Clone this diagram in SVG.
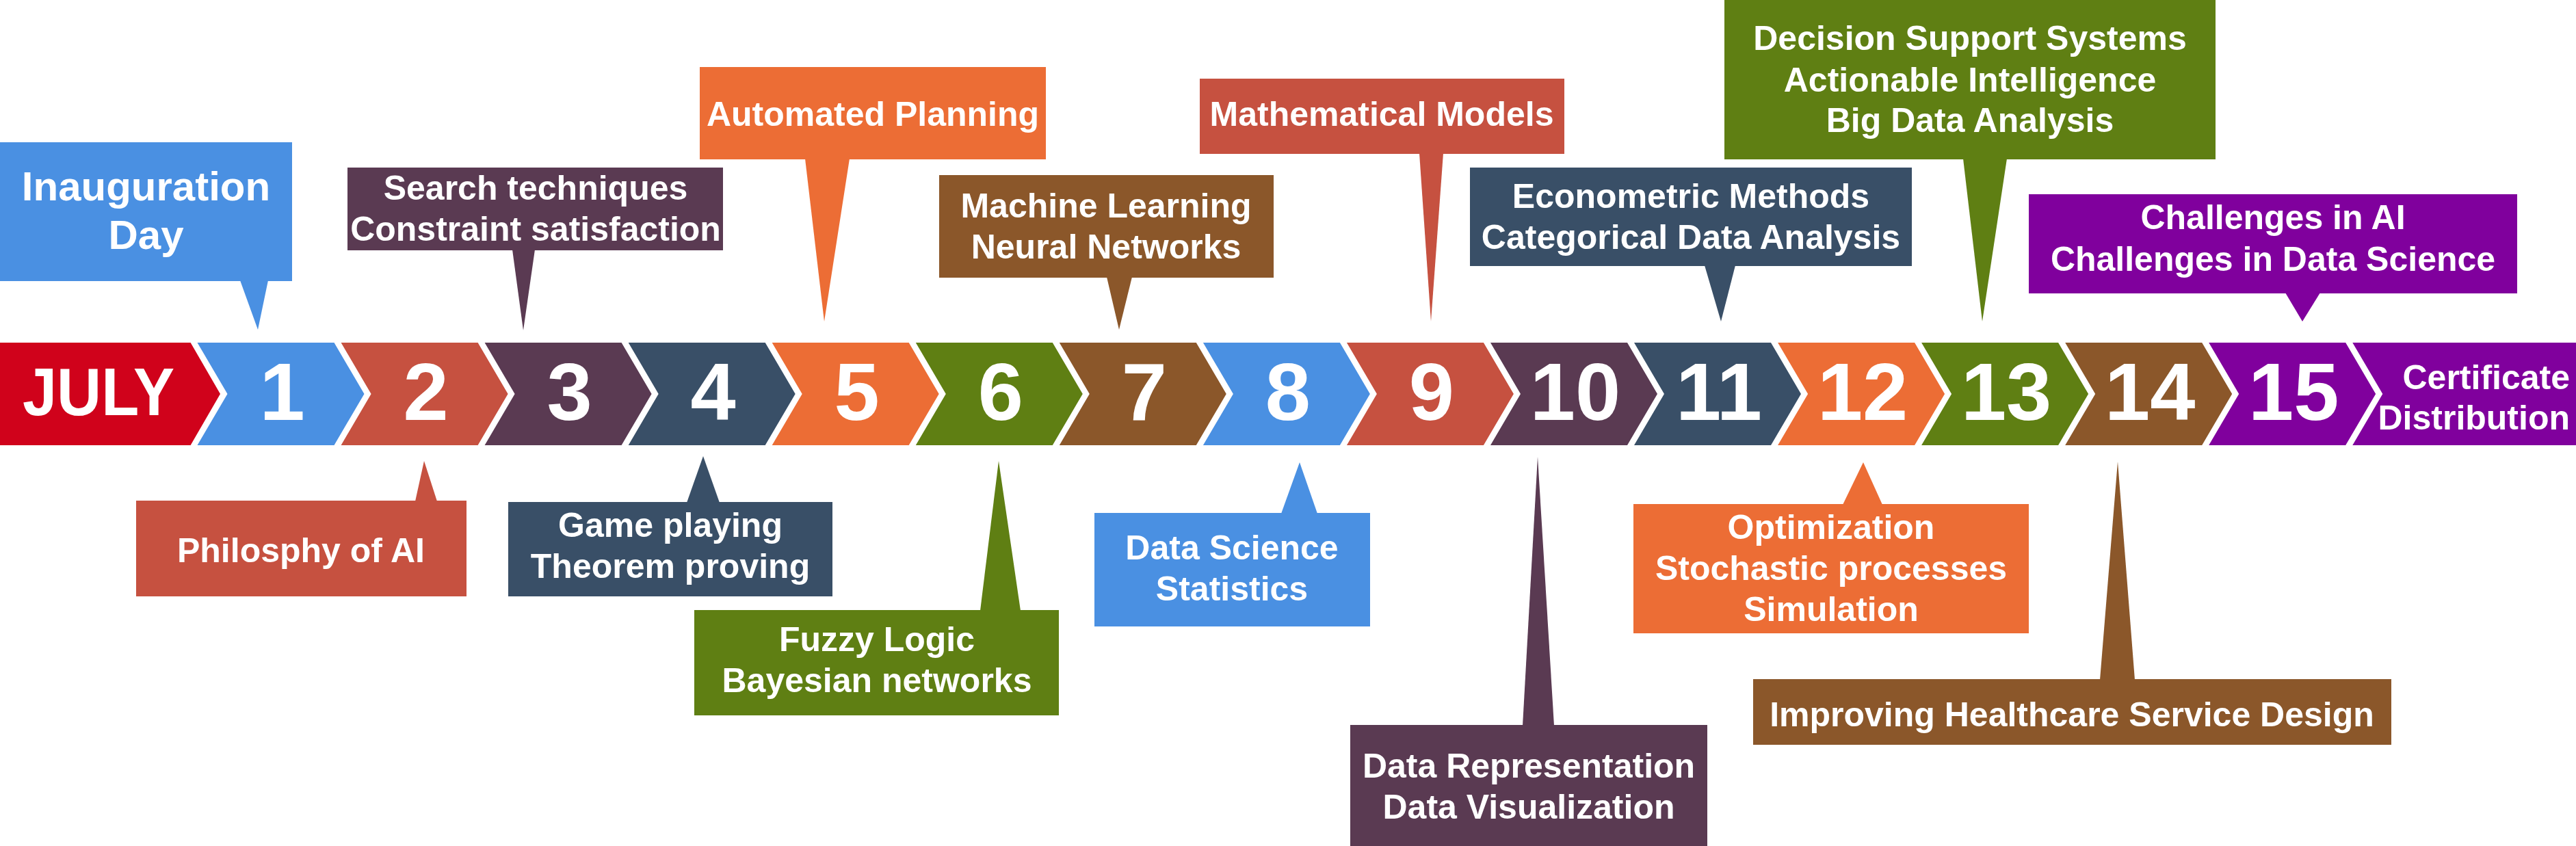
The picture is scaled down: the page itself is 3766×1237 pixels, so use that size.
<svg xmlns="http://www.w3.org/2000/svg" width="3766" height="1237" viewBox="0 0 3766 1237">
<style>
.july{fill:#D0021B}
.blue{fill:#4A90E2}
.red{fill:#C65140}
.plum{fill:#5A3A52}
.navy{fill:#394F67}
.orange{fill:#EC6D35}
.green{fill:#5F7F13}
.brown{fill:#8B572A}
.purple{fill:#80009D}
text{font-family:"Liberation Sans",Arial,Helvetica,sans-serif;font-weight:bold;fill:#fff}
.t{font-size:50px;text-anchor:middle}
.big{font-size:60px}
.num{font-size:119px;text-anchor:middle}
</style>
<rect width="3766" height="1237" fill="#fff"/>

<g id="timeline">
  <g id="july"><polygon class="july" points="0,501 278.6,501 322,576 278.6,651 0,651"/>
    <text x="33" y="607" font-size="99" textLength="222" lengthAdjust="spacingAndGlyphs">JULY</text></g>
  <g id="day1"><polygon class="blue" points="288.5,501 488.5,501 532.5,576 488.5,651 288.5,651 332.5,576"/><text class="num" x="412.5" y="614">1</text></g>
  <g id="day2"><polygon class="red" points="498.6,501 698.6,501 742.6,576 698.6,651 498.6,651 542.6,576"/><text class="num" x="622.6" y="614">2</text></g>
  <g id="day3"><polygon class="plum" points="708.6,501 908.6,501 952.6,576 908.6,651 708.6,651 752.6,576"/><text class="num" x="832.6" y="614">3</text></g>
  <g id="day4"><polygon class="navy" points="918.7,501 1118.7,501 1162.7,576 1118.7,651 918.7,651 962.7,576"/><text class="num" x="1042.7" y="614">4</text></g>
  <g id="day5"><polygon class="orange" points="1128.7,501 1328.7,501 1372.7,576 1328.7,651 1128.7,651 1172.7,576"/><text class="num" x="1252.7" y="614">5</text></g>
  <g id="day6"><polygon class="green" points="1338.8,501 1538.8,501 1582.8,576 1538.8,651 1338.8,651 1382.8,576"/><text class="num" x="1462.8" y="614">6</text></g>
  <g id="day7"><polygon class="brown" points="1548.8,501 1748.8,501 1792.8,576 1748.8,651 1548.8,651 1592.8,576"/><text class="num" x="1672.8" y="614">7</text></g>
  <g id="day8"><polygon class="blue" points="1758.9,501 1958.9,501 2002.9,576 1958.9,651 1758.9,651 1802.9,576"/><text class="num" x="1882.9" y="614">8</text></g>
  <g id="day9"><polygon class="red" points="1968.9,501 2168.9,501 2212.9,576 2168.9,651 1968.9,651 2012.9,576"/><text class="num" x="2092.9" y="614">9</text></g>
  <g id="day10"><polygon class="plum" points="2179,501 2379,501 2423,576 2379,651 2179,651 2223,576"/><text class="num" x="2303" y="614">10</text></g>
  <g id="day11"><polygon class="navy" points="2389,501 2589,501 2633,576 2589,651 2389,651 2433,576"/><text class="num" x="2513" y="614">11</text></g>
  <g id="day12"><polygon class="orange" points="2599.1,501 2799.1,501 2843.1,576 2799.1,651 2599.1,651 2643.1,576"/><text class="num" x="2723.1" y="614">12</text></g>
  <g id="day13"><polygon class="green" points="2809.1,501 3009.1,501 3053.1,576 3009.1,651 2809.1,651 2853.1,576"/><text class="num" x="2933.1" y="614">13</text></g>
  <g id="day14"><polygon class="brown" points="3019.2,501 3219.2,501 3263.2,576 3219.2,651 3019.2,651 3063.2,576"/><text class="num" x="3143.2" y="614">14</text></g>
  <g id="day15"><polygon class="purple" points="3229.2,501 3429.2,501 3473.2,576 3429.2,651 3229.2,651 3273.2,576"/><text class="num" x="3353.2" y="614">15</text></g>
  <g id="certificate"><polygon class="purple" points="3439.3,501 3766,501 3766,651 3439.3,651 3483.3,576"/>
    <text x="3757" y="569" font-size="50" text-anchor="end">Certificate</text>
    <text x="3757" y="628" font-size="50" text-anchor="end">Distribution</text></g>
</g>

<g id="connectors">
  <polygon class="blue" points="351,410 392,410 377,482"/>
  <polygon class="red" points="607,733 639,733 620,674"/>
  <polygon class="plum" points="749,365 782,365 765,483"/>
  <polygon class="navy" points="1004,735 1052,735 1028,667"/>
  <polygon class="orange" points="1177,232 1242,232 1205,470"/>
  <polygon class="green" points="1433,893 1492,893 1460,674"/>
  <polygon class="brown" points="1618,405 1655,405 1636,482"/>
  <polygon class="blue" points="1873,751 1926,751 1900,676"/>
  <polygon class="red" points="2075,224 2110,224 2092,470"/>
  <polygon class="plum" points="2226,1061 2272,1061 2248,668"/>
  <polygon class="navy" points="2492,388 2537,388 2516,470"/>
  <polygon class="orange" points="2694,738 2752,738 2724,676"/>
  <polygon class="green" points="2870,232 2934,232 2898,470"/>
  <polygon class="brown" points="3070,994 3121,994 3096,675"/>
  <polygon class="purple" points="3341,428 3392,428 3366,470"/>
</g>

<g id="callout1"><rect class="blue" x="0" y="208" width="427" height="203"/>
  <text class="t big" x="213.5" y="293">Inauguration</text><text class="t big" x="213.5" y="364">Day</text></g>
<g id="callout2"><rect class="red" x="199" y="732" width="483" height="140"/>
  <text class="t" x="440" y="822">Philosphy of AI</text></g>
<g id="callout3"><rect class="plum" x="508" y="245" width="549" height="121"/>
  <text class="t" x="783" y="292">Search techniques</text><text class="t" x="783" y="352">Constraint satisfaction</text></g>
<g id="callout4"><rect class="navy" x="743" y="734" width="474" height="138"/>
  <text class="t" x="980" y="785">Game playing</text><text class="t" x="980" y="845">Theorem proving</text></g>
<g id="callout5"><rect class="orange" x="1023" y="98" width="506" height="135"/>
  <text class="t" x="1276" y="184">Automated Planning</text></g>
<g id="callout6"><rect class="green" x="1015" y="892" width="533" height="154"/>
  <text class="t" x="1282" y="952">Fuzzy Logic</text><text class="t" x="1282" y="1012">Bayesian networks</text></g>
<g id="callout7"><rect class="brown" x="1373" y="256" width="489" height="150"/>
  <text class="t" x="1617" y="318">Machine Learning</text><text class="t" x="1617" y="378">Neural Networks</text></g>
<g id="callout8"><rect class="blue" x="1600" y="750" width="403" height="166"/>
  <text class="t" x="1801" y="818">Data Science</text><text class="t" x="1801" y="878">Statistics</text></g>
<g id="callout9"><rect class="red" x="1754" y="115" width="533" height="110"/>
  <text class="t" x="2020" y="184">Mathematical Models</text></g>
<g id="callout10"><rect class="plum" x="1974" y="1060" width="522" height="177"/>
  <text class="t" x="2235" y="1137">Data Representation</text><text class="t" x="2235" y="1197">Data Visualization</text></g>
<g id="callout11"><rect class="navy" x="2149" y="245" width="646" height="144"/>
  <text class="t" x="2472" y="304">Econometric Methods</text><text class="t" x="2472" y="364">Categorical Data Analysis</text></g>
<g id="callout12"><rect class="orange" x="2388" y="737" width="578" height="189"/>
  <text class="t" x="2677" y="788">Optimization</text><text class="t" x="2677" y="848">Stochastic processes</text><text class="t" x="2677" y="908">Simulation</text></g>
<g id="callout13"><rect class="green" x="2521" y="0" width="718" height="233"/>
  <text class="t" x="2880" y="73">Decision Support Systems</text><text class="t" x="2880" y="134">Actionable Intelligence</text><text class="t" x="2880" y="193">Big Data Analysis</text></g>
<g id="callout14"><rect class="brown" x="2563" y="993" width="933" height="96"/>
  <text class="t" x="3029" y="1062">Improving Healthcare Service Design</text></g>
<g id="callout15"><rect class="purple" x="2966" y="284" width="714" height="145"/>
  <text class="t" x="3323" y="335">Challenges in AI</text><text class="t" x="3323" y="396">Challenges in Data Science</text></g>
</svg>
